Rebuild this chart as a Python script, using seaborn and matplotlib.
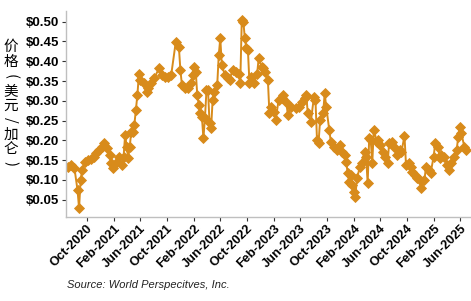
import numpy as np
import pandas as pd
import matplotlib
matplotlib.use("Agg")
import matplotlib.pyplot as plt
import matplotlib.dates as mdates
from matplotlib.ticker import FuncFormatter
import seaborn as sns

# ---- data ----
start_date = "2020-07-10"
week_index = [0, 2, 4, 6, 7, 8, 9, 11, 13, 15, 17, 18, 20, 22, 23, 25, 27, 28, 29, 31,
              33, 35, 36, 37, 38, 39, 40, 41, 42, 43, 44, 45, 46, 47, 49, 51, 52, 54, 56, 59,
              61, 63, 65, 67, 70, 72, 73, 74, 76, 78, 80, 81, 82, 83, 84, 85, 86, 87, 88, 89,
              90, 91, 92, 93, 94, 95, 97, 98, 99, 100, 102, 104, 105, 107, 109, 111, 112, 113, 114, 115,
              116, 117, 118, 119, 121, 123, 124, 126, 127, 128, 130, 131, 132, 134, 135, 137, 139, 140, 142, 143,
              145, 148, 150, 152, 154, 155, 156, 158, 160, 161, 162, 163, 164, 166, 167, 168, 170, 171, 173, 175,
              177, 178, 180, 181, 182, 183, 184, 185, 186, 187, 188, 190, 191, 193, 194, 195, 196, 197, 198, 199,
              201, 202, 203, 205, 206, 208, 209, 211, 212, 214, 216, 217, 219, 220, 222, 223, 224, 226, 227, 229,
              230, 232, 233, 235, 236, 238, 239, 241, 242, 243, 245, 247, 248, 249, 251, 253, 254, 255, 256, 258,
              259]
price = [0.133, 0.137, 0.129, 0.074, 0.028, 0.100, 0.125, 0.146, 0.150, 0.152, 0.157, 0.167, 0.175, 0.184, 0.193, 0.180, 0.163, 0.142, 0.129, 0.142,
         0.159, 0.137, 0.159, 0.214, 0.184, 0.155, 0.184, 0.222, 0.222, 0.239, 0.277, 0.315, 0.369, 0.353, 0.344, 0.323, 0.332, 0.344, 0.357, 0.382,
         0.365, 0.361, 0.361, 0.365, 0.449, 0.437, 0.378, 0.340, 0.332, 0.332, 0.344, 0.365, 0.386, 0.374, 0.315, 0.289, 0.268, 0.260, 0.205, 0.256,
         0.327, 0.327, 0.243, 0.230, 0.302, 0.323, 0.340, 0.416, 0.458, 0.390, 0.365, 0.357, 0.353, 0.378, 0.374, 0.369, 0.344, 0.504, 0.500, 0.458,
         0.433, 0.428, 0.344, 0.361, 0.344, 0.369, 0.407, 0.386, 0.382, 0.374, 0.353, 0.268, 0.285, 0.272, 0.251, 0.302, 0.306, 0.315, 0.298, 0.264,
         0.285, 0.281, 0.285, 0.298, 0.306, 0.315, 0.268, 0.247, 0.310, 0.302, 0.201, 0.193, 0.251, 0.268, 0.319, 0.285, 0.226, 0.197, 0.184, 0.176,
         0.188, 0.171, 0.163, 0.146, 0.117, 0.095, 0.112, 0.087, 0.070, 0.058, 0.104, 0.133, 0.142, 0.171, 0.159, 0.091, 0.205, 0.201, 0.142, 0.226,
         0.197, 0.201, 0.188, 0.171, 0.159, 0.142, 0.193, 0.197, 0.184, 0.163, 0.176, 0.171, 0.211, 0.137, 0.142, 0.133, 0.121, 0.112, 0.104, 0.100,
         0.079, 0.100, 0.133, 0.125, 0.117, 0.159, 0.193, 0.184, 0.155, 0.163, 0.159, 0.137, 0.125, 0.142, 0.159, 0.176, 0.209, 0.235, 0.218, 0.184,
         0.176]
y_ticks = [0.05, 0.10, 0.15, 0.20, 0.25, 0.30, 0.35, 0.40, 0.45, 0.50]
y_label_chars = ["价", "格", "(", "美", "元", "/", "加", "仑", ")"]
source_text = "Source: World Perspecitves, Inc."

dates = pd.Timestamp(start_date) + pd.to_timedelta(np.array(week_index) * 7, unit="D")
df = pd.DataFrame({"date": dates, "price": price})

sns.set_theme(style="white")
plt.rcParams["font.family"] = ["Liberation Sans", "Noto Sans CJK SC", "DejaVu Sans"]

W, H = 471, 301
fig = plt.figure(figsize=(W / 100, H / 100), dpi=100)
ax = fig.add_axes([65.7 / W, 1 - 216.7 / H, (470.5 - 65.7) / W, (216.7 - 11) / H])

color = "#D88B1B"
sns.lineplot(data=df, x="date", y="price", ax=ax, color=color, linewidth=1.4,
             marker="D", markersize=5.5, markeredgecolor=color, markeredgewidth=0.6)

ax.set_ylim(0.007, 0.527)
ax.set_xlim(pd.Timestamp(start_date) - pd.Timedelta(days=12),
            pd.Timestamp(start_date) + pd.Timedelta(days=262 * 7))
ax.set_yticks(y_ticks)
ax.yaxis.set_major_formatter(FuncFormatter(lambda v, p: f"${v:.2f}"))
ax.xaxis.set_major_locator(mdates.MonthLocator(bymonth=[2, 6, 10]))
ax.xaxis.set_major_formatter(mdates.DateFormatter("%b-%Y"))

for s in ["top", "right"]:
    ax.spines[s].set_visible(False)
for s in ["left", "bottom"]:
    ax.spines[s].set_color("#BFBFBF")
    ax.spines[s].set_linewidth(1.0)

ax.tick_params(axis="both", which="major", length=3, width=0.8, color="#333333",
               direction="out", pad=2, labelsize=9.5, labelcolor="black")
ax.tick_params(axis="x", bottom=True, pad=1)
ax.tick_params(axis="y", left=True)
for lab in ax.get_yticklabels():
    lab.set_fontweight("bold")
for lab in ax.get_xticklabels():
    lab.set_fontweight("bold")
    lab.set_rotation(45)
    lab.set_ha("right")
    lab.set_va("top")
    lab.set_rotation_mode("anchor")
    lab.set_fontsize(9.2)
ax.set_xlabel("")
ax.set_ylabel("")

# vertical stacked y-label (punctuation turned as in vertical writing)
y0, step = 47, 14.6
for i, ch in enumerate(y_label_chars):
    fig.text(10.5 / W, 1 - (y0 + i * step) / H, ch, ha="center", va="center",
             fontsize=10.5, family=["Noto Sans CJK SC", "DejaVu Sans"], color="black",
             rotation=(-90 if ch in ("(", ")", "/") else 0))

fig.text(67 / W, 1 - 285 / H, source_text, ha="left", va="center",
         fontsize=8, style="italic", color="#222222")

fig.savefig("out.png", dpi=100, facecolor="white")
